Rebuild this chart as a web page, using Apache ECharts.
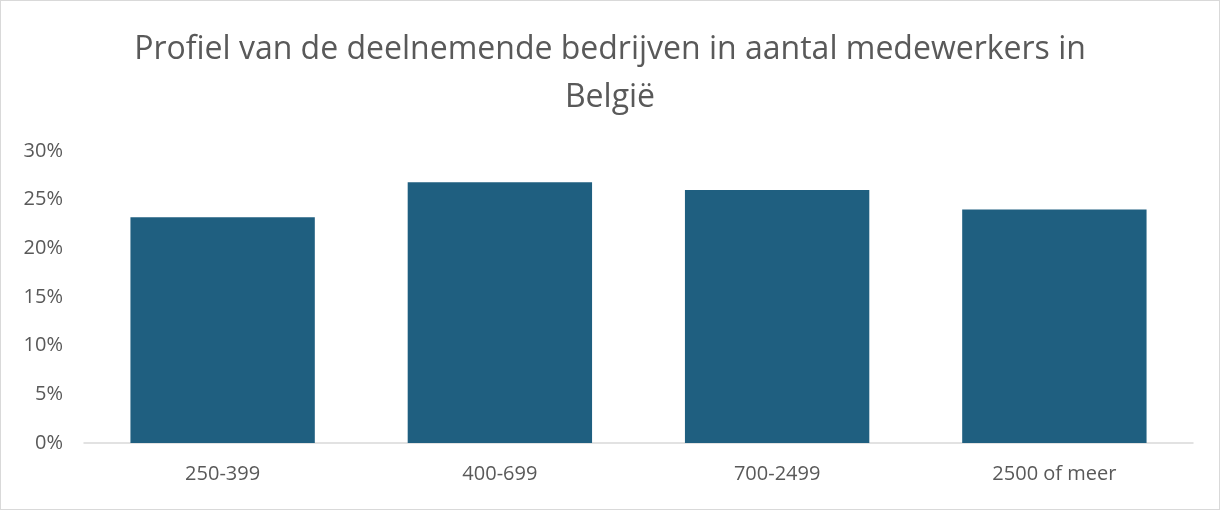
<!DOCTYPE html>
<html>
<head>
<meta charset="utf-8">
<script src="https://cdn.jsdelivr.net/npm/echarts@6/dist/echarts.min.js"></script>
<style>
  html, body { margin: 0; padding: 0; background: #fff; }
  #chart { width: 1220px; height: 510px; box-sizing: border-box; border: 1.5px solid #d9d9d9; }
</style>
</head>
<body>
<div id="chart"></div>
<script>
var categories = ['250-399', '400-699', '700-2499', '2500 of meer'];
var shares = [23.2, 26.8, 26.0, 24.0];
var yTicks = [0, 5, 10, 15, 20, 25, 30];

var chart = echarts.init(document.getElementById('chart'));

chart.setOption({
  animation: false,
  title: {
    text: 'Profiel van de deelnemende bedrijven in aantal medewerkers in\nBelgië',
    left: 'center',
    top: 20,
    textStyle: {
      fontFamily: 'Open Sans',
      fontSize: 32,
      fontWeight: 'normal',
      color: '#595959',
      lineHeight: 48
    }
  },
  grid: {
    left: 83,
    right: 26,
    top: 150,
    bottom: 66
  },
  xAxis: {
    type: 'category',
    data: categories,
    axisLine: { lineStyle: { color: '#d9d9d9', width: 1.5 } },
    axisTick: { show: false },
    axisLabel: {
      color: '#595959',
      fontFamily: 'Open Sans',
      fontSize: 20,
      margin: 21
    }
  },
  yAxis: {
    type: 'value',
    min: yTicks[0],
    max: yTicks[yTicks.length - 1],
    interval: yTicks[1] - yTicks[0],
    splitLine: { show: false },
    axisLine: { show: false },
    axisTick: { show: false },
    axisLabel: {
      color: '#595959',
      fontFamily: 'Open Sans',
      fontSize: 20,
      margin: 21,
      formatter: function (v) { return v + '%'; }
    }
  },
  series: [{
    type: 'bar',
    data: shares,
    barCategoryGap: '33.5%',
    itemStyle: { color: '#1f5f80' }
  }]
});
</script>
</body>
</html>
